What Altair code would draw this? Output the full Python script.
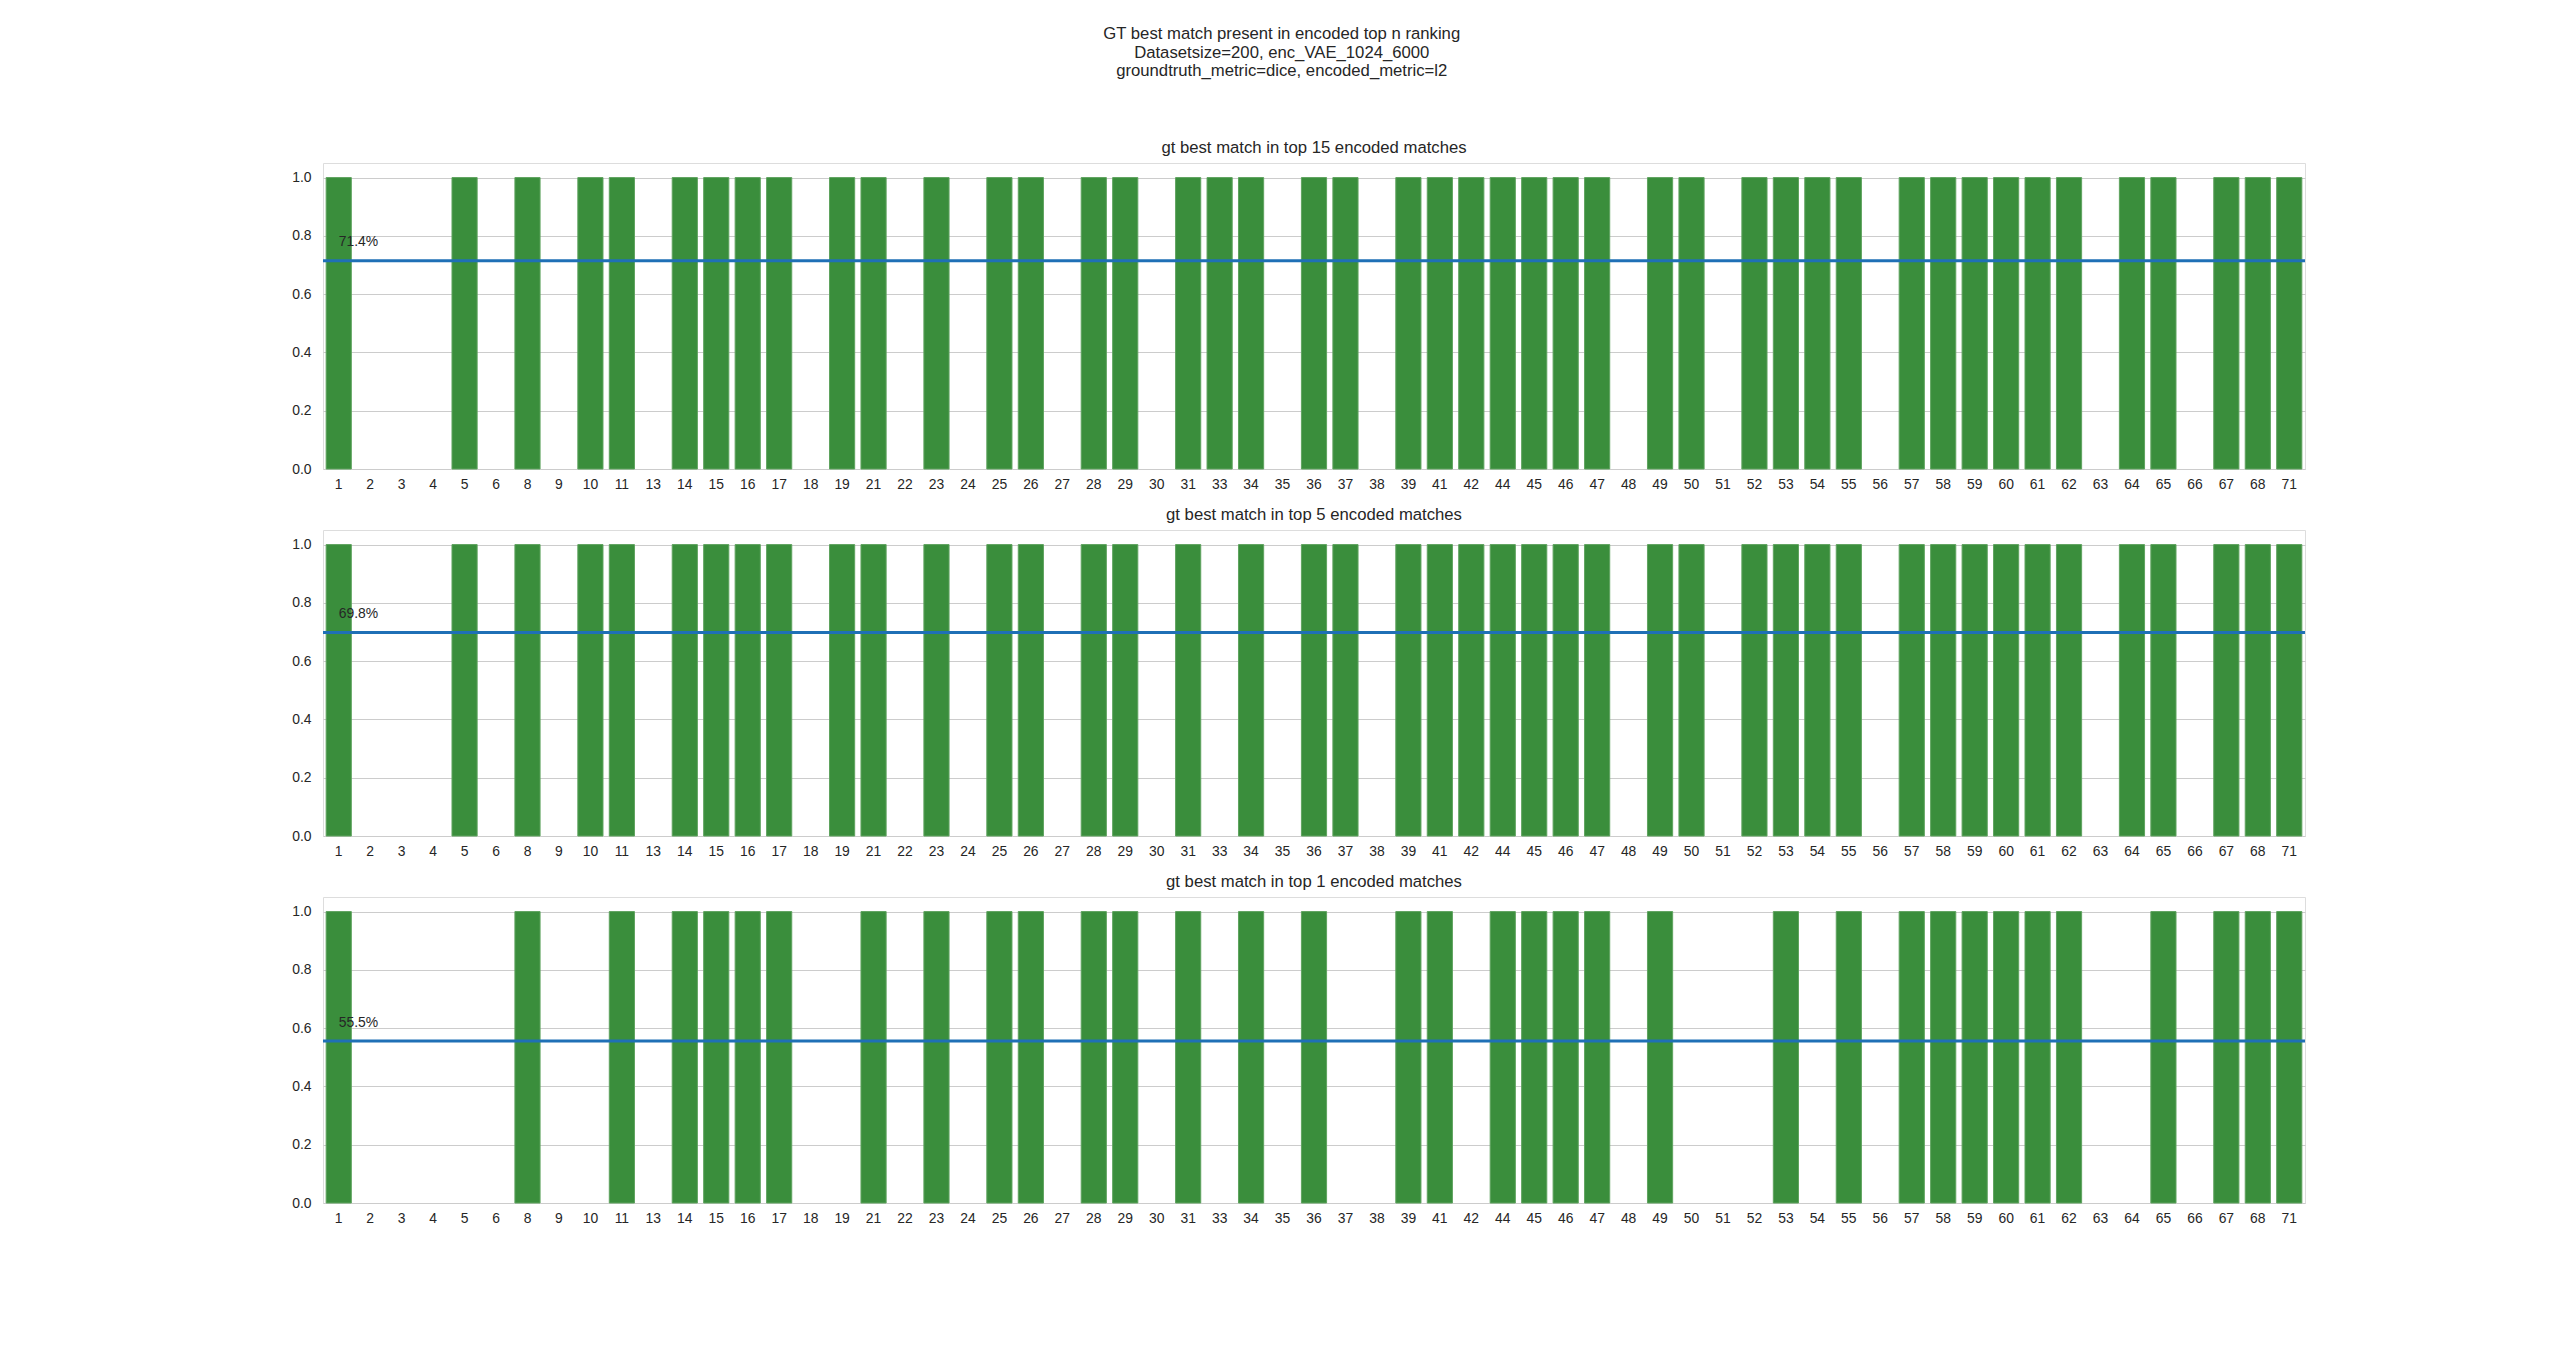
import math
import altair as alt
import pandas as pd

cats = [1, 2, 3, 4, 5, 6, 8, 9, 10, 11, 13, 14, 15, 16, 17, 18, 19, 21, 22, 23, 24,
        25, 26, 27, 28, 29, 30, 31, 33, 34, 35, 36, 37, 38, 39, 41, 42, 44, 45, 46,
        47, 48, 49, 50, 51, 52, 53, 54, 55, 56, 57, 58, 59, 60, 61, 62, 63, 64, 65,
        66, 67, 68, 71]

top15 = [1, 0, 0, 0, 1, 0, 1, 0, 1, 1, 0, 1, 1, 1, 1, 0, 1, 1, 0, 1, 0,
         1, 1, 0, 1, 1, 0, 1, 1, 1, 0, 1, 1, 0, 1, 1, 1, 1, 1, 1,
         1, 0, 1, 1, 0, 1, 1, 1, 1, 0, 1, 1, 1, 1, 1, 1, 0, 1, 1,
         0, 1, 1, 1]
top5 = [1, 0, 0, 0, 1, 0, 1, 0, 1, 1, 0, 1, 1, 1, 1, 0, 1, 1, 0, 1, 0,
        1, 1, 0, 1, 1, 0, 1, 0, 1, 0, 1, 1, 0, 1, 1, 1, 1, 1, 1,
        1, 0, 1, 1, 0, 1, 1, 1, 1, 0, 1, 1, 1, 1, 1, 1, 0, 1, 1,
        0, 1, 1, 1]
top1 = [1, 0, 0, 0, 0, 0, 1, 0, 0, 1, 0, 1, 1, 1, 1, 0, 0, 1, 0, 1, 0,
        1, 1, 0, 1, 1, 0, 1, 0, 1, 0, 1, 0, 0, 1, 1, 0, 1, 1, 1,
        1, 0, 1, 0, 0, 0, 1, 0, 1, 0, 1, 1, 1, 1, 1, 1, 0, 0, 1,
        0, 1, 1, 1]

panel_titles = ["gt best match in top 15 encoded matches",
                "gt best match in top 5 encoded matches",
                "gt best match in top 1 encoded matches"]
main_title = ["GT best match present in encoded top n ranking",
              "Datasetsize=200, enc_VAE_1024_6000",
              "groundtruth_metric=dice, encoded_metric=l2"]

cat_str = [str(c) for c in cats]
FONT = "Liberation Sans"
TXT = "#262626"
BAR = "#3a8e3c"
LINE = "#1f70b6"


def panel(vals, title):
    df = pd.DataFrame({"cat": cat_str, "value": vals})
    mean = sum(vals) / len(vals)
    lab = pd.DataFrame({
        "cat": [cat_str[0]],
        "mean": [mean],
        "y": [mean + 0.05],
        "label": [f"{math.floor(mean * 1000) / 10:.1f}%"],
    })
    xs = alt.Scale(domain=cat_str, paddingInner=0.2, paddingOuter=0.1)
    ys = alt.Scale(domain=[0, 1.05], nice=False)
    bars = alt.Chart(df).mark_bar(color=BAR, stroke="#5fa35f", strokeWidth=1).encode(
        x=alt.X("cat:N", scale=xs, sort=None,
                axis=alt.Axis(title=None, labelAngle=0, ticks=False, domain=False,
                              grid=False, labelPadding=8, labelFontSize=13.9,
                              labelFont=FONT, labelColor=TXT,
                              minExtent=24, maxExtent=24)),
        y=alt.Y("value:Q", scale=ys,
                axis=alt.Axis(title=None, values=[0, 0.2, 0.4, 0.6, 0.8, 1.0],
                              format=".1f", ticks=False, domain=False,
                              grid=True, gridColor="#cccccc", gridWidth=1.2,
                              labelPadding=12, labelFontSize=13.9, labelFont=FONT,
                              labelColor=TXT, minExtent=40, maxExtent=40)),
        strokeOpacity=alt.condition("datum.value > 0", alt.value(1), alt.value(0)),
    )
    rule = alt.Chart(lab).mark_rule(color=LINE, strokeWidth=3).encode(
        y=alt.Y("mean:Q", scale=ys))
    text = alt.Chart(lab).mark_text(align="left", baseline="alphabetic",
                                    font=FONT, fontSize=13.9, color=TXT).encode(
        x=alt.X("cat:N", scale=xs, sort=None),
        y=alt.Y("y:Q", scale=ys),
        text="label:N")
    return alt.layer(bars, rule, text).properties(
        width=1982, height=306,
        title=alt.TitleParams(title, font=FONT, fontSize=16.7, fontWeight="normal",
                              color=TXT, offset=6, anchor="middle"))


chart = alt.vconcat(
    panel(top15, panel_titles[0]),
    panel(top5, panel_titles[1]),
    panel(top1, panel_titles[2]),
    spacing=12,
).properties(
    title=alt.TitleParams(main_title, font=FONT, fontSize=16.7, fontWeight="normal",
                          color=TXT, lineHeight=18.5, anchor="middle", offset=60,
                          dx=-13),
    padding={"left": 282, "top": 26, "right": 250, "bottom": 20},
).configure_view(stroke="#cccccc", strokeWidth=1.2).configure(background="white")

chart.save("out.html", embed_options={"renderer": "svg", "actions": False})
